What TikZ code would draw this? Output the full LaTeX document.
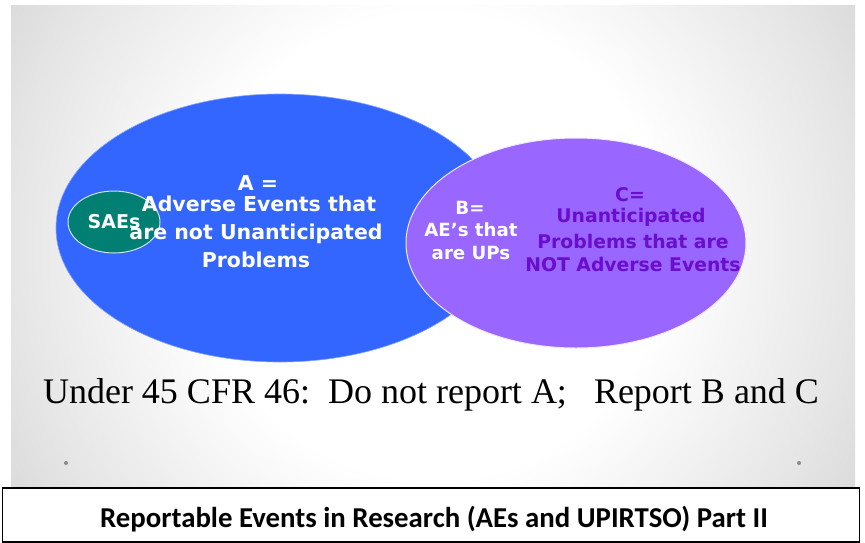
\documentclass[tikz,border=0pt]{standalone}
\usepackage{fontspec}
\usetikzlibrary{shapes.geometric}
\setmainfont{Liberation Serif}
\newfontfamily\vfont{DejaVu Sans}
\newfontfamily\cfont{Carlito}
\definecolor{blueA}{HTML}{3366FF}
\definecolor{purpB}{HTML}{9966FF}
\definecolor{tealS}{HTML}{007F72}
\definecolor{darkC}{HTML}{6A0DCC}
\definecolor{dotg}{HTML}{8A8A8A}
\pgfdeclareradialshading{slideshade}{\pgfpoint{0bp}{0bp}}{%
  color(0bp)=(white); color(12bp)=(white); color(21.7bp)=(black!10); color(25bp)=(black!14); color(50bp)=(black!14)}
\tikzset{
  lbl/.style={font=\vfont\bfseries\fontsize{#1}{#1}\selectfont, align=center, inner sep=0pt},
  albl/.style={lbl=20.5, text=white},
  blbl/.style={lbl=18.2, text=white},
  slbl/.style={lbl=19, text=white},
  clbl/.style={lbl=18.8, text=darkC},
  ell/.style={shape=ellipse, inner sep=0pt},
}
\begin{document}
\begin{tikzpicture}[x=1pt,y=-1pt]
\useasboundingbox (0,0) rectangle (865,542);
\fill[white] (0,0) rectangle (865,542);
\begin{scope}
  \clip (11,5) rectangle (855,488);
  \shade[shading=slideshade] (433,246) circle (486pt);
\end{scope}
% ellipses
\node[ell, draw=blueA!60!white, fill=blueA, line width=0.6pt,
      minimum width=448pt, minimum height=268pt] (A) at (280,228) {};
\node[ell, draw=white!85!purpB, fill=purpB, line width=1pt,
      minimum width=340pt, minimum height=210pt] (BC) at (576,243) {};
\node[ell, draw=white!80!tealS, fill=tealS, line width=1pt,
      minimum width=92pt, minimum height=62pt] (S) at (114,222) {};
% texts
\node[albl] (ta) at (258,183) {A =};
\node[albl] (ta1) at (259,204) {Adverse Events that};
\node[albl] (ta2) at (256,234) {are not Unanticipated};
\node[albl] (ta3) at (256,260) {Problems};
\node[slbl] (ts) at (114,222) {SAEs};
\node[blbl] (tb) at (470,208) {B=};
\node[blbl] (tb1) at (471,230) {AE’s that};
\node[blbl] (tb2) at (471,253) {are UPs};
\node[clbl] (tc) at (630,195) {C=};
\node[clbl] (tc1) at (631,217) {Unanticipated};
\node[clbl] (tc2) at (633,241) {Problems that are};
\node[clbl] (tc3) at (633,264) {NOT Adverse Events};
\node[font=\fontsize{36}{40}\selectfont, inner sep=0pt] (cfr) at (431,395)
  {Under 45 CFR 46:\ \ Do not report A;\ \ \ Report B and C};
\fill[dotg] (66,463) circle (2pt);
\fill[dotg] (799,463) circle (2pt);
% bottom box
\node[draw=black, line width=1.2pt, minimum width=857pt, minimum height=54pt, inner sep=0pt] (box) at (431,515) {};
\node[font=\cfont\bfseries\fontsize{28.8}{32}\selectfont, inner sep=0pt] (title) at (434,519)
  {Reportable Events in Research (AEs and UPIRTSO) Part II};
\end{tikzpicture}
\end{document}
